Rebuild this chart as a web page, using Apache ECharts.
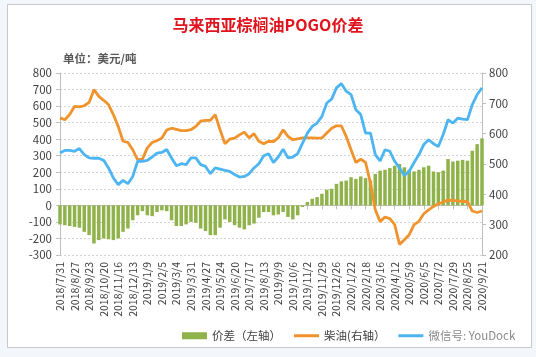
<!DOCTYPE html>
<html><head><meta charset="utf-8">
<script src="https://cdn.jsdelivr.net/npm/echarts@6/dist/echarts.min.js"></script>
<style>
html,body{margin:0;padding:0;background:#f3f6fb;width:536px;height:357px;overflow:hidden}
#frame{position:absolute;left:7px;top:4px;width:523px;height:342px;background:#fff;border:1px solid #c9c9c9}
#chart{position:absolute;left:0;top:0;width:536px;height:357px}
</style></head><body><div id="frame"></div><div id="chart"></div>
<script>
const categories = ['2018/7/31','2018/8/9','2018/8/18','2018/8/27','2018/9/5','2018/9/14','2018/9/23','2018/10/2','2018/10/11','2018/10/20','2018/10/29','2018/11/7','2018/11/16','2018/11/25','2018/12/4','2018/12/13','2018/12/22','2018/12/31','2019/1/9','2019/1/18','2019/1/27','2019/2/5','2019/2/14','2019/2/23','2019/3/4','2019/3/13','2019/3/22','2019/3/31','2019/4/9','2019/4/18','2019/4/27','2019/5/6','2019/5/15','2019/5/24','2019/6/2','2019/6/11','2019/6/20','2019/6/29','2019/7/8','2019/7/17','2019/7/26','2019/8/4','2019/8/13','2019/8/22','2019/8/31','2019/9/9','2019/9/18','2019/9/27','2019/10/6','2019/10/15','2019/10/24','2019/11/2','2019/11/11','2019/11/20','2019/11/29','2019/12/8','2019/12/17','2019/12/26','2020/1/4','2020/1/13','2020/1/22','2020/1/31','2020/2/9','2020/2/18','2020/2/27','2020/3/7','2020/3/16','2020/3/25','2020/4/3','2020/4/12','2020/4/21','2020/4/30','2020/5/9','2020/5/18','2020/5/27','2020/6/5','2020/6/14','2020/6/23','2020/7/2','2020/7/11','2020/7/20','2020/7/29','2020/8/7','2020/8/16','2020/8/25','2020/9/3','2020/9/12','2020/9/21'];
// 价差 (left axis)
const spread = [-115,-120,-125,-130,-135,-160,-180,-230,-210,-200,-205,-210,-200,-160,-140,-90,-60,-35,-60,-65,-40,-30,-35,-90,-125,-125,-115,-100,-105,-140,-155,-180,-180,-135,-85,-100,-120,-135,-145,-120,-110,-75,-40,-40,-60,-55,-40,-70,-85,-60,-10,20,40,50,70,95,100,130,145,150,170,160,175,165,150,190,210,215,225,240,250,230,215,205,215,230,240,205,200,210,280,265,270,275,270,330,370,405];
// 柴油 (right axis)
const diesel = [652,646,663,690,688,692,703,745,723,710,696,663,624,575,571,547,514,516,553,571,577,586,612,618,614,610,610,613,624,641,644,644,663,613,567,582,585,596,605,586,600,575,567,575,574,586,613,591,580,583,586,586,586,585,586,602,618,626,626,591,547,505,516,505,437,349,310,325,320,300,235,250,267,300,311,336,349,360,369,374,382,379,379,376,377,345,340,345];
// 棕榈油 (right axis)
const palm = [536,545,545,542,551,531,520,519,519,512,487,454,432,446,435,459,509,509,512,523,536,538,548,520,494,501,498,520,520,498,492,468,487,483,479,476,465,457,459,468,487,501,527,534,505,523,549,520,523,534,569,602,624,635,657,701,714,751,765,740,729,679,663,602,602,531,510,547,542,509,487,462,476,505,531,564,580,567,558,597,646,635,651,648,646,696,729,751];
const leftTicks = {min:-300, max:800, interval:100};
const rightTicks = {min:200, max:800, interval:100};

const FONT = '"Noto Sans CJK SC", "Noto Sans", sans-serif';
const LINE_ICON = 'path://M0 0H25V3H0Z';
const chart = echarts.init(document.getElementById('chart'), null, {renderer:'canvas'});
chart.setOption({
  animation:false,
  backgroundColor:'transparent',
  textStyle:{fontFamily:FONT},
  title:{text:'马来西亚棕榈油POGO价差', left:'center', top:12,
    textStyle:{color:'#e0141e', fontSize:16, fontWeight:'bold', fontFamily:FONT}},
  graphic:[{type:'text', left:63, top:53, style:{text:'单位：美元/吨', fill:'#595959', font:'bold 11.5px '+FONT}}],
  legend:{left:177, top:325, itemWidth:25, itemHeight:7, itemGap:13,
    textStyle:{color:'#404040', fontSize:11.5, fontFamily:FONT},
    formatter:function(n){return n==='棕榈油(右轴)'?'微信号: YouDock':n;},
    data:[{name:'价差（左轴）', icon:'rect'},{name:'柴油(右轴）', icon:LINE_ICON},{name:'棕榈油(右轴)', icon:LINE_ICON, textStyle:{color:'#8a8a8a'}}]},
  grid:{left:60, right:54, top:73, bottom:102, containLabel:false},
  xAxis:[{
    type:'category', data:categories, boundaryGap:false, position:'bottom',
    axisLine:{show:true, onZero:true, onZeroAxisIndex:0, lineStyle:{color:'#bfbfbf', width:1}},
    axisTick:{show:true, interval:2, length:4, lineStyle:{color:'#bfbfbf'}},
    axisLabel:{show:false}, splitLine:{show:false}
  },{
    type:'category', data:categories, boundaryGap:false, position:'bottom',
    axisLine:{show:false, onZero:false}, axisTick:{show:false},
    axisLabel:{show:true, interval:2, rotate:90, margin:7, color:'#404040', fontSize:10.5, fontFamily:FONT},
    splitLine:{show:false}
  }],
  yAxis:[{
    type:'value', position:'left', min:leftTicks.min, max:leftTicks.max, interval:leftTicks.interval,
    axisLine:{show:true, lineStyle:{color:'#bfbfbf'}},
    axisTick:{show:true, length:4, lineStyle:{color:'#bfbfbf'}},
    axisLabel:{color:'#404040', fontSize:11.5, margin:8, fontFamily:FONT},
    splitLine:{show:true, lineStyle:{color:'#d4d4d4', type:[2,2], width:1}}
  },{
    type:'value', position:'right', min:rightTicks.min, max:rightTicks.max, interval:rightTicks.interval,
    axisLine:{show:true, lineStyle:{color:'#bfbfbf'}},
    axisTick:{show:true, length:4, lineStyle:{color:'#bfbfbf'}},
    axisLabel:{color:'#404040', fontSize:11.5, margin:7, fontFamily:FONT},
    splitLine:{show:false}
  }],
  series:[{
    name:'价差（左轴）', type:'bar', xAxisIndex:0, yAxisIndex:0, data:spread,
    barWidth:3.5, itemStyle:{color:'#8fb34a'}, z:1
  },{
    name:'柴油(右轴）', type:'line', xAxisIndex:0, yAxisIndex:1, data:diesel,
    symbol:'none', lineStyle:{color:'#f0932c', width:2.8}, itemStyle:{color:'#f0932c'}, z:3
  },{
    name:'棕榈油(右轴)', type:'line', xAxisIndex:0, yAxisIndex:1, data:palm,
    symbol:'none', lineStyle:{color:'#4db5f2', width:2.8}, itemStyle:{color:'#4db5f2'}, z:4
  }]
});
</script></body></html>
